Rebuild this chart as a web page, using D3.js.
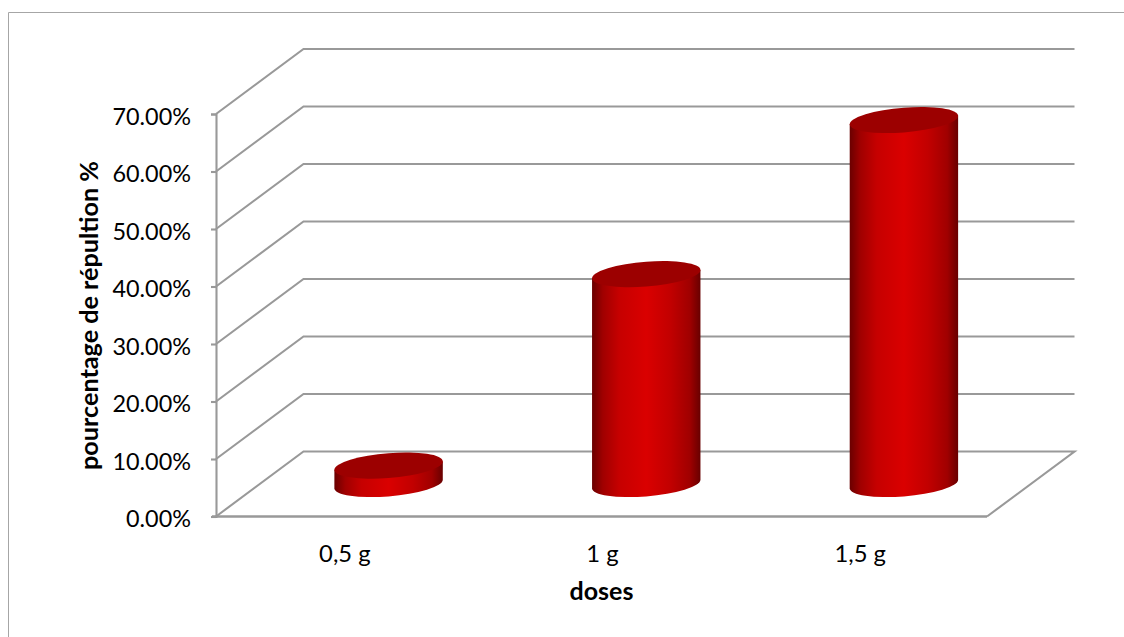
<!DOCTYPE html>
<html>
<head>
<meta charset="utf-8">
<script src="https://d3js.org/d3.v7.min.js"></script>
<style>
  body { margin: 0; background: #fff; }
  svg text { font-family: Lato, "Open Sans", sans-serif; fill: #000; }
</style>
</head>
<body>
<script>
var categories = ["0,5 g", "1 g", "1,5 g"];
var values = [3.2, 36.5, 63.3];
var yTicks = [0, 10, 20, 30, 40, 50, 60, 70];
var yTitle = "pourcentage de répultion %";
var xTitle = "doses";

var width = 1124, height = 637;
var depthX = 87.5, depthY = 65;   // decalage du plan arriere
var gridColor = "#999999";

var svg = d3.select("body").append("svg")
  .attr("width", width).attr("height", height)
  .style("display", "block");

// cadre, ouvert a droite et en bas
svg.append("path")
  .attr("d", d3.line()([[8.5, height], [8.5, 12.5], [width, 12.5]]))
  .attr("fill", "none").attr("stroke", "#a6a6a6").attr("stroke-width", 1);

var x = d3.scaleBand().domain(categories).range([216, 989]);
var y = d3.scaleLinear().domain([0, 70]).range([516.5, 114]);

var defs = svg.append("defs");
var grad = defs.append("linearGradient").attr("id", "cyl");
[[0, "#6a0000"], [0.1, "#a00000"], [0.25, "#c60000"], [0.5, "#da0000"],
 [0.72, "#c20000"], [0.9, "#a00000"], [1, "#680000"]].forEach(function(s) {
  grad.append("stop").attr("offset", s[0]).attr("stop-color", s[1]);
});

// grille : mur gauche puis mur du fond
svg.append("g").selectAll("path")
  .data(yTicks.filter(function(d) { return d > 0; }))
  .enter().append("path")
  .attr("fill", "none").attr("stroke", gridColor).attr("stroke-width", 2.1)
  .attr("d", function(d) {
    return d3.line()([[216, y(d)], [216 + depthX, y(d) - depthY], [987 + depthX, y(d) - depthY]]);
  });

// plancher
svg.append("path")
  .attr("fill", "none").attr("stroke", gridColor).attr("stroke-width", 2.1)
  .attr("d", d3.line()([
    [216, y(0)], [216 + depthX, y(0) - depthY],
    [987 + depthX, y(0) - depthY], [987, y(0)]
  ]));

// axe Y
var axisY = svg.append("g")
  .attr("transform", "translate(216,0)")
  .call(d3.axisLeft(y).tickValues(yTicks).tickSize(5).tickPadding(20)
    .tickFormat(function(d) { return d3.format(".2f")(d) + "%"; }));
axisY.selectAll("path, line").attr("stroke", gridColor).attr("stroke-width", 2.1);
axisY.selectAll("text").attr("font-size", 23.4).attr("font-family", null)
  .attr("dy", "0.44em");

// axe X
svg.append("path")
  .attr("fill", "none").attr("stroke", gridColor).attr("stroke-width", 2.3)
  .attr("d", d3.line()([[212, y(0)], [987, y(0)]]));

svg.append("g").selectAll("text")
  .data(categories)
  .enter().append("text")
  .attr("x", function(d) { return x(d) + x.bandwidth() / 2; })
  .attr("y", 562)
  .attr("text-anchor", "middle")
  .attr("font-size", 23.8)
  .text(function(d) { return d; });

// cylindres : ellipses cisaillees
var rx = 54.2, ry = 12.4, shear = -4.2 / 54.2;
var bar = svg.append("g").selectAll("g")
  .data(values)
  .enter().append("g")
  .attr("transform", function(d, i) {
    var cx = x(categories[i]) + x.bandwidth() / 2 + depthX / 2;
    return "matrix(1," + shear + ",0,1," + cx + ",0)";
  });

var baseY = y(0) - depthY / 2;
bar.append("path")
  .attr("fill", "url(#cyl)")
  .attr("d", function(d) {
    var top = baseY - (y(0) - y(d));
    return "M" + (-rx) + "," + top + "L" + (-rx) + "," + baseY +
      "A" + rx + "," + ry + " 0 0 0 " + rx + "," + baseY +
      "L" + rx + "," + top + "Z";
  });
bar.append("ellipse")
  .attr("rx", rx).attr("ry", ry)
  .attr("cy", function(d) { return baseY - (y(0) - y(d)); })
  .attr("fill", "#9c0000");

// titres
svg.append("text")
  .attr("transform", "translate(98,315.5) rotate(-90)")
  .attr("text-anchor", "middle")
  .attr("font-size", 25.2).attr("font-weight", 700)
  .text(yTitle);

svg.append("text")
  .attr("x", 601.5).attr("y", 600)
  .attr("text-anchor", "middle")
  .attr("font-size", 25).attr("font-weight", 700)
  .text(xTitle);
</script>
</body>
</html>
